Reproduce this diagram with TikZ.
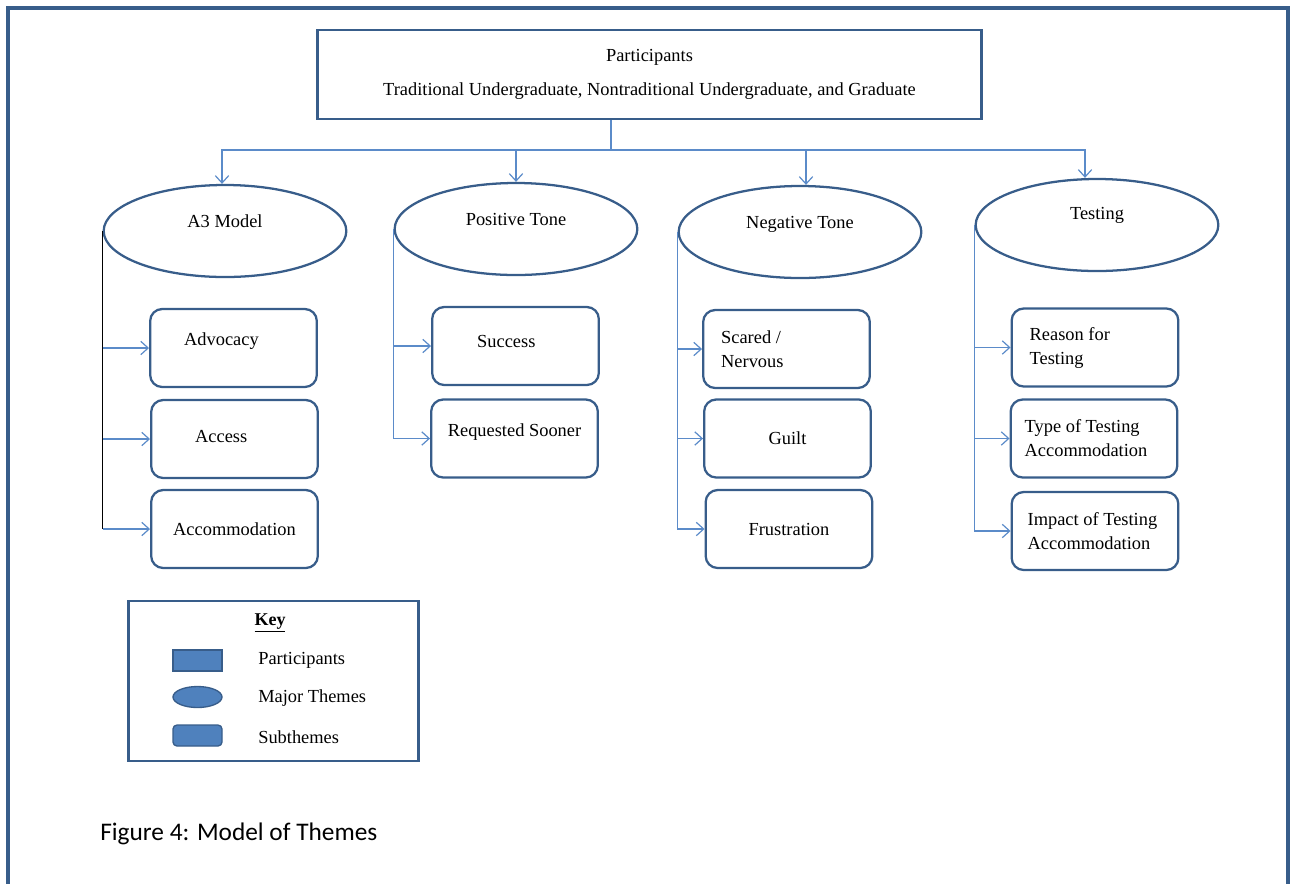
\documentclass[tikz,border=0pt]{standalone}
\usepackage{fontspec}
\setmainfont{Liberation Serif}
\newfontfamily\capfont{Carlito}
\usetikzlibrary{shapes.geometric,arrows.meta}
\definecolor{edgeblue}{RGB}{56,93,138}
\definecolor{linkblue}{RGB}{91,139,201}
\definecolor{fillblue}{RGB}{79,129,189}

\tikzset{
  part/.style={draw=edgeblue, line width=2.2pt, minimum width=498pt, minimum height=66.75pt, align=center},
  theme/.style={ellipse, draw=edgeblue, line width=1.7pt, minimum width=182pt, minimum height=69pt, text depth=#1},
  theme/.default=3pt,
  sub/.style={draw=edgeblue, line width=1.7pt, rounded corners=9pt, minimum width=125pt, minimum height=58.5pt},
  lift/.style={text depth=#1},
  twoline/.style={text width=#1, align=flush left},
  link/.style={draw=linkblue, line width=0.9pt, -{Straight Barb[length=5.5pt,width=10pt]}},
  swatch/.style={draw=edgeblue, fill=fillblue, line width=1pt, minimum width=36.75pt, minimum height=15.75pt, inner sep=0pt},
  keylbl/.style={anchor=west, inner sep=0pt}
}

\begin{document}
\begin{tikzpicture}[x=0.75pt, y=-0.75pt, font=\fontsize{13.8}{18}\selectfont]
  \useasboundingbox (0,0) rectangle (1291,883);
  \draw[edgeblue, line width=3pt] (8,900) -- (8,8) -- (1288,8) -- (1288,900);

  \node[part] (part) at (649.5,74.5) {Participants\\[7pt]Traditional Undergraduate, Nontraditional Undergraduate, and Graduate};
  \coordinate (hub) at (611,150);

  \node[theme=15pt] (a3) at (225,231) {A3 Model};
  \node[theme=15pt] (pos) at (516,229) {Positive Tone};
  \node[theme=15pt] (neg) at (800,232) {Negative Tone};
  \node[theme=18pt] (tst) at (1097,225) {Testing};

  \node[sub, lift=13.5pt, twoline=74pt] (adv) at (233.5,348) {Advocacy};
  \node[sub, lift=4.5pt, twoline=59pt] (acc) at (234.5,439) {Access};
  \node[sub] (acm) at (234.5,529) {Accommodation};

  \node[sub, lift=7.5pt, twoline=57.5pt] (suc) at (515.5,346) {Success};
  \node[sub, lift=12pt] (req) at (514.5,438.5) {Requested Sooner};

  \node[sub, twoline=98pt] (scr) at (786.5,349) {Scared /\\Nervous};
  \node[sub] (glt) at (787.5,438.5) {Guilt};
  \node[sub] (fru) at (789,529) {Frustration};

  \node[sub, twoline=98pt] (rsn) at (1095,347.5) {Reason for\\Testing};
  \node[sub, twoline=104pt] (typ) at (1094,438.5) {Type of Testing\\Accommodation};
  \node[sub, twoline=101pt] (imp) at (1095,531) {Impact of Testing\\Accommodation};

  % participants to themes
  \draw[link, -] (hub |- part.south) -- (hub);
  \draw[link] (hub) -| ([xshift=-2.25pt]a3.north);
  \draw[link] (hub) -| (pos);
  \draw[link] (hub) -| ([xshift=4.5pt]neg.north);
  \draw[link] (hub) -| ([xshift=-9pt]tst.north);

  % themes to subthemes
  \draw[black, line width=1pt] (a3.west) -- (a3.west |- acm.west);
  \foreach \s in {adv,acc,acm}
    \draw[link] (a3.west |- \s.west) -- (\s.west);
  \foreach \t/\s in {pos/suc,pos/req,neg/scr,neg/glt,neg/fru,tst/rsn,tst/typ,tst/imp}
    \draw[link] (\t.west) |- (\s.west);

  % key
  \node[draw=edgeblue, line width=2.2pt, minimum width=218pt, minimum height=120pt] (key) at (273.5,681) {};
  \node[font=\fontsize{13.5}{16}\selectfont\bfseries] (keyt) at (270,623) {\underline{Key}};
  \node[swatch] (kp) at (197.5,660.5) {};
  \node[swatch, ellipse] (km) at (197.5,697) {};
  \node[swatch, rounded corners=3pt] (ks) at (197.5,735.5) {};
  \node[keylbl] (kpl) at (258,660) {Participants};
  \node[keylbl] (kml) at (258,698) {Major Themes};
  \node[keylbl] (ksl) at (258,737) {Subthemes};

  \node[anchor=west, inner sep=0pt, font=\capfont\fontsize{19}{22}\selectfont] (cap) at (100,834) {Figure 4: Model of Themes};
\end{tikzpicture}
\end{document}
